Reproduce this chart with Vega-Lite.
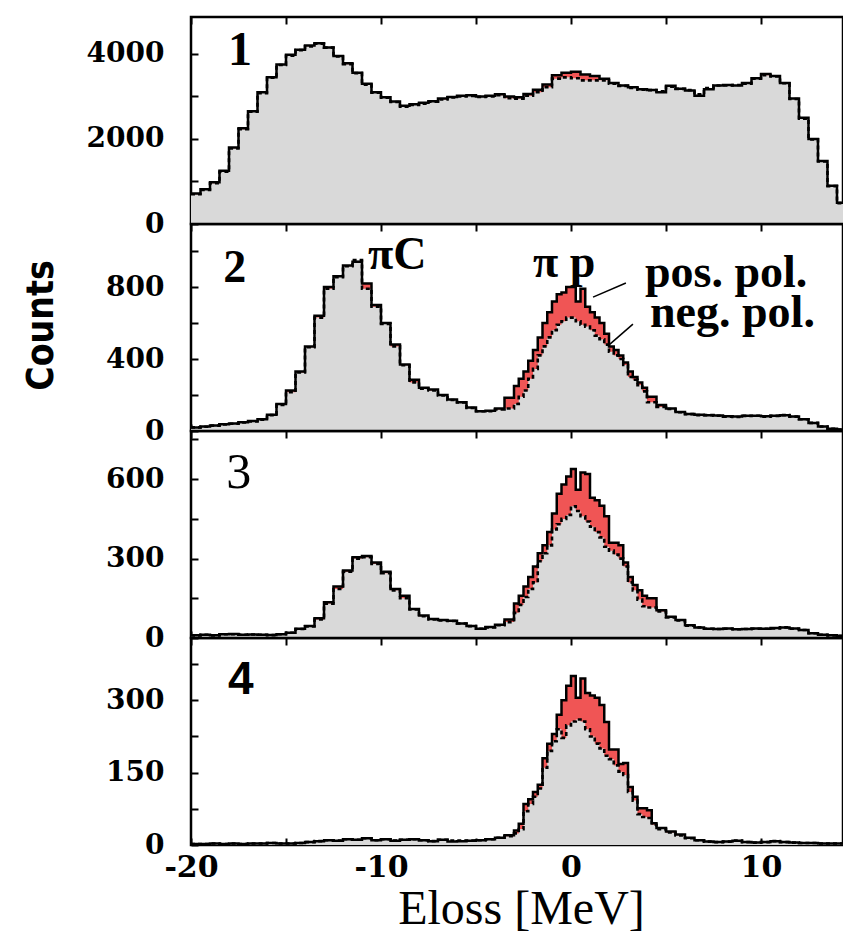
{
"$schema":"https://vega.github.io/schema/vega-lite/v6.json",
"background":"white",
"padding":{"left":20,"top":14,"right":0,"bottom":0},
"datasets":{"h":[
{"p":1,"x":-20,"pos":720,"neg":700},{"p":1,"x":-19.5,"pos":820,"neg":800},{"p":1,"x":-19,"pos":980,"neg":960},{"p":1,"x":-18.5,"pos":1250,"neg":1230},{"p":1,"x":-18,"pos":1800,"neg":1780},{"p":1,"x":-17.5,"pos":2250,"neg":2230},{"p":1,"x":-17,"pos":2650,"neg":2640},{"p":1,"x":-16.5,"pos":3100,"neg":3080},{"p":1,"x":-16,"pos":3450,"neg":3440},{"p":1,"x":-15.5,"pos":3750,"neg":3740},{"p":1,"x":-15,"pos":3980,"neg":3960},{"p":1,"x":-14.5,"pos":4100,"neg":4090},{"p":1,"x":-14,"pos":4200,"neg":4180},{"p":1,"x":-13.5,"pos":4250,"neg":4240},{"p":1,"x":-13,"pos":4150,"neg":4150},{"p":1,"x":-12.5,"pos":3950,"neg":3940},{"p":1,"x":-12,"pos":3780,"neg":3760},{"p":1,"x":-11.5,"pos":3560,"neg":3550},{"p":1,"x":-11,"pos":3300,"neg":3280},{"p":1,"x":-10.5,"pos":3100,"neg":3090},{"p":1,"x":-10,"pos":2980,"neg":2970},{"p":1,"x":-9.5,"pos":2880,"neg":2870},{"p":1,"x":-9,"pos":2780,"neg":2760},{"p":1,"x":-8.5,"pos":2820,"neg":2800},{"p":1,"x":-8,"pos":2850,"neg":2830},{"p":1,"x":-7.5,"pos":2890,"neg":2880},{"p":1,"x":-7,"pos":2950,"neg":2930},{"p":1,"x":-6.5,"pos":2990,"neg":2980},{"p":1,"x":-6,"pos":3020,"neg":3000},{"p":1,"x":-5.5,"pos":3030,"neg":3010},{"p":1,"x":-5,"pos":3000,"neg":2990},{"p":1,"x":-4.5,"pos":3020,"neg":3000},{"p":1,"x":-4,"pos":3050,"neg":3030},{"p":1,"x":-3.5,"pos":3000,"neg":2960},{"p":1,"x":-3,"pos":2980,"neg":2950},{"p":1,"x":-2.5,"pos":3060,"neg":3020},{"p":1,"x":-2,"pos":3160,"neg":3100},{"p":1,"x":-1.5,"pos":3280,"neg":3220},{"p":1,"x":-1,"pos":3500,"neg":3420},{"p":1,"x":-0.5,"pos":3560,"neg":3450},{"p":1,"x":0,"pos":3580,"neg":3430},{"p":1,"x":0.5,"pos":3520,"neg":3380},{"p":1,"x":1,"pos":3480,"neg":3380},{"p":1,"x":1.5,"pos":3420,"neg":3380},{"p":1,"x":2,"pos":3320,"neg":3300},{"p":1,"x":2.5,"pos":3260,"neg":3250},{"p":1,"x":3,"pos":3220,"neg":3200},{"p":1,"x":3.5,"pos":3170,"neg":3160},{"p":1,"x":4,"pos":3150,"neg":3150},{"p":1,"x":4.5,"pos":3100,"neg":3120},{"p":1,"x":5,"pos":3250,"neg":3230},{"p":1,"x":5.5,"pos":3180,"neg":3180},{"p":1,"x":6,"pos":3140,"neg":3150},{"p":1,"x":6.5,"pos":3020,"neg":3050},{"p":1,"x":7,"pos":3170,"neg":3200},{"p":1,"x":7.5,"pos":3260,"neg":3260},{"p":1,"x":8,"pos":3270,"neg":3260},{"p":1,"x":8.5,"pos":3260,"neg":3270},{"p":1,"x":9,"pos":3320,"neg":3300},{"p":1,"x":9.5,"pos":3430,"neg":3420},{"p":1,"x":10,"pos":3530,"neg":3500},{"p":1,"x":10.5,"pos":3480,"neg":3470},{"p":1,"x":11,"pos":3320,"neg":3310},{"p":1,"x":11.5,"pos":2950,"neg":2940},{"p":1,"x":12,"pos":2500,"neg":2480},{"p":1,"x":12.5,"pos":2000,"neg":1990},{"p":1,"x":13,"pos":1480,"neg":1470},{"p":1,"x":13.5,"pos":900,"neg":890},{"p":1,"x":14,"pos":500,"neg":490},{"p":1,"x":14.5,"pos":480,"neg":470},
{"p":2,"x":-20,"pos":20,"neg":20},{"p":2,"x":-19.5,"pos":25,"neg":24},{"p":2,"x":-19,"pos":30,"neg":30},{"p":2,"x":-18.5,"pos":38,"neg":37},{"p":2,"x":-18,"pos":42,"neg":40},{"p":2,"x":-17.5,"pos":48,"neg":47},{"p":2,"x":-17,"pos":55,"neg":53},{"p":2,"x":-16.5,"pos":65,"neg":63},{"p":2,"x":-16,"pos":90,"neg":88},{"p":2,"x":-15.5,"pos":150,"neg":145},{"p":2,"x":-15,"pos":225,"neg":215},{"p":2,"x":-14.5,"pos":330,"neg":325},{"p":2,"x":-14,"pos":470,"neg":465},{"p":2,"x":-13.5,"pos":640,"neg":630},{"p":2,"x":-13,"pos":800,"neg":790},{"p":2,"x":-12.5,"pos":860,"neg":855},{"p":2,"x":-12,"pos":920,"neg":915},{"p":2,"x":-11.5,"pos":940,"neg":950},{"p":2,"x":-11,"pos":820,"neg":790},{"p":2,"x":-10.5,"pos":700,"neg":690},{"p":2,"x":-10,"pos":600,"neg":595},{"p":2,"x":-9.5,"pos":480,"neg":470},{"p":2,"x":-9,"pos":370,"neg":365},{"p":2,"x":-8.5,"pos":285,"neg":270},{"p":2,"x":-8,"pos":240,"neg":235},{"p":2,"x":-7.5,"pos":230,"neg":225},{"p":2,"x":-7,"pos":200,"neg":198},{"p":2,"x":-6.5,"pos":175,"neg":172},{"p":2,"x":-6,"pos":160,"neg":158},{"p":2,"x":-5.5,"pos":130,"neg":128},{"p":2,"x":-5,"pos":110,"neg":110},{"p":2,"x":-4.5,"pos":112,"neg":110},{"p":2,"x":-4,"pos":125,"neg":120},{"p":2,"x":-3.5,"pos":185,"neg":125},{"p":2,"x":-3,"pos":250,"neg":150},{"p":2,"x":-2.75,"pos":290,"neg":190},{"p":2,"x":-2.5,"pos":330,"neg":225},{"p":2,"x":-2.25,"pos":390,"neg":290},{"p":2,"x":-2,"pos":450,"neg":345},{"p":2,"x":-1.75,"pos":520,"neg":420},{"p":2,"x":-1.5,"pos":600,"neg":470},{"p":2,"x":-1.25,"pos":660,"neg":520},{"p":2,"x":-1,"pos":720,"neg":560},{"p":2,"x":-0.75,"pos":760,"neg":590},{"p":2,"x":-0.5,"pos":770,"neg":610},{"p":2,"x":-0.25,"pos":800,"neg":630},{"p":2,"x":0,"pos":800,"neg":630},{"p":2,"x":0.25,"pos":720,"neg":610},{"p":2,"x":0.5,"pos":790,"neg":590},{"p":2,"x":0.75,"pos":690,"neg":580},{"p":2,"x":1,"pos":660,"neg":560},{"p":2,"x":1.25,"pos":630,"neg":530},{"p":2,"x":1.5,"pos":600,"neg":510},{"p":2,"x":1.75,"pos":540,"neg":480},{"p":2,"x":2,"pos":470,"neg":440},{"p":2,"x":2.25,"pos":450,"neg":420},{"p":2,"x":2.5,"pos":420,"neg":400},{"p":2,"x":2.75,"pos":380,"neg":367},{"p":2,"x":3,"pos":330,"neg":300},{"p":2,"x":3.25,"pos":300,"neg":285},{"p":2,"x":3.5,"pos":270,"neg":255},{"p":2,"x":3.75,"pos":240,"neg":220},{"p":2,"x":4,"pos":190,"neg":160},{"p":2,"x":4.5,"pos":145,"neg":133},{"p":2,"x":5,"pos":125,"neg":122},{"p":2,"x":5.5,"pos":105,"neg":104},{"p":2,"x":6,"pos":95,"neg":94},{"p":2,"x":6.5,"pos":90,"neg":88},{"p":2,"x":7,"pos":88,"neg":88},{"p":2,"x":7.5,"pos":86,"neg":85},{"p":2,"x":8,"pos":82,"neg":80},{"p":2,"x":8.5,"pos":80,"neg":78},{"p":2,"x":9,"pos":85,"neg":84},{"p":2,"x":9.5,"pos":85,"neg":85},{"p":2,"x":10,"pos":82,"neg":80},{"p":2,"x":10.5,"pos":85,"neg":84},{"p":2,"x":11,"pos":88,"neg":88},{"p":2,"x":11.5,"pos":80,"neg":80},{"p":2,"x":12,"pos":65,"neg":65},{"p":2,"x":12.5,"pos":45,"neg":45},{"p":2,"x":13,"pos":25,"neg":25},{"p":2,"x":13.5,"pos":12,"neg":12},{"p":2,"x":14,"pos":8,"neg":8},{"p":2,"x":14.5,"pos":8,"neg":8},
{"p":3,"x":-20,"pos":10,"neg":10},{"p":3,"x":-19.5,"pos":12,"neg":12},{"p":3,"x":-19,"pos":10,"neg":10},{"p":3,"x":-18.5,"pos":14,"neg":14},{"p":3,"x":-18,"pos":15,"neg":14},{"p":3,"x":-17.5,"pos":12,"neg":12},{"p":3,"x":-17,"pos":13,"neg":13},{"p":3,"x":-16.5,"pos":12,"neg":12},{"p":3,"x":-16,"pos":11,"neg":11},{"p":3,"x":-15.5,"pos":14,"neg":14},{"p":3,"x":-15,"pos":20,"neg":20},{"p":3,"x":-14.5,"pos":35,"neg":34},{"p":3,"x":-14,"pos":45,"neg":44},{"p":3,"x":-13.5,"pos":75,"neg":70},{"p":3,"x":-13,"pos":135,"neg":130},{"p":3,"x":-12.5,"pos":195,"neg":185},{"p":3,"x":-12,"pos":255,"neg":250},{"p":3,"x":-11.5,"pos":305,"neg":300},{"p":3,"x":-11,"pos":310,"neg":305},{"p":3,"x":-10.5,"pos":285,"neg":280},{"p":3,"x":-10,"pos":250,"neg":245},{"p":3,"x":-9.5,"pos":185,"neg":180},{"p":3,"x":-9,"pos":160,"neg":150},{"p":3,"x":-8.5,"pos":110,"neg":108},{"p":3,"x":-8,"pos":85,"neg":82},{"p":3,"x":-7.5,"pos":72,"neg":70},{"p":3,"x":-7,"pos":68,"neg":66},{"p":3,"x":-6.5,"pos":65,"neg":64},{"p":3,"x":-6,"pos":55,"neg":55},{"p":3,"x":-5.5,"pos":45,"neg":45},{"p":3,"x":-5,"pos":35,"neg":35},{"p":3,"x":-4.5,"pos":42,"neg":40},{"p":3,"x":-4,"pos":50,"neg":48},{"p":3,"x":-3.5,"pos":70,"neg":60},{"p":3,"x":-3,"pos":130,"neg":95},{"p":3,"x":-2.75,"pos":160,"neg":125},{"p":3,"x":-2.5,"pos":195,"neg":155},{"p":3,"x":-2.25,"pos":230,"neg":185},{"p":3,"x":-2,"pos":270,"neg":210},{"p":3,"x":-1.75,"pos":320,"neg":290},{"p":3,"x":-1.5,"pos":350,"neg":320},{"p":3,"x":-1.25,"pos":400,"neg":350},{"p":3,"x":-1,"pos":470,"neg":410},{"p":3,"x":-0.75,"pos":545,"neg":430},{"p":3,"x":-0.5,"pos":580,"neg":450},{"p":3,"x":-0.25,"pos":610,"neg":465},{"p":3,"x":0,"pos":638,"neg":498},{"p":3,"x":0.25,"pos":560,"neg":480},{"p":3,"x":0.5,"pos":625,"neg":460},{"p":3,"x":0.75,"pos":620,"neg":440},{"p":3,"x":1,"pos":530,"neg":420},{"p":3,"x":1.25,"pos":520,"neg":400},{"p":3,"x":1.5,"pos":500,"neg":380},{"p":3,"x":1.75,"pos":460,"neg":345},{"p":3,"x":2,"pos":360,"neg":330},{"p":3,"x":2.25,"pos":360,"neg":315},{"p":3,"x":2.5,"pos":350,"neg":300},{"p":3,"x":2.75,"pos":285,"neg":270},{"p":3,"x":3,"pos":230,"neg":210},{"p":3,"x":3.25,"pos":200,"neg":180},{"p":3,"x":3.5,"pos":180,"neg":145},{"p":3,"x":3.75,"pos":160,"neg":120},{"p":3,"x":4,"pos":150,"neg":115},{"p":3,"x":4.5,"pos":105,"neg":100},{"p":3,"x":5,"pos":80,"neg":78},{"p":3,"x":5.5,"pos":68,"neg":66},{"p":3,"x":6,"pos":48,"neg":46},{"p":3,"x":6.5,"pos":40,"neg":40},{"p":3,"x":7,"pos":35,"neg":35},{"p":3,"x":7.5,"pos":34,"neg":34},{"p":3,"x":8,"pos":36,"neg":35},{"p":3,"x":8.5,"pos":33,"neg":33},{"p":3,"x":9,"pos":34,"neg":34},{"p":3,"x":9.5,"pos":36,"neg":35},{"p":3,"x":10,"pos":35,"neg":35},{"p":3,"x":10.5,"pos":38,"neg":36},{"p":3,"x":11,"pos":40,"neg":40},{"p":3,"x":11.5,"pos":36,"neg":35},{"p":3,"x":12,"pos":30,"neg":30},{"p":3,"x":12.5,"pos":18,"neg":18},{"p":3,"x":13,"pos":12,"neg":12},{"p":3,"x":13.5,"pos":10,"neg":10},{"p":3,"x":14,"pos":8,"neg":8},{"p":3,"x":14.5,"pos":8,"neg":8},
{"p":4,"x":-20,"pos":2,"neg":2},{"p":4,"x":-19.5,"pos":2,"neg":2},{"p":4,"x":-19,"pos":3,"neg":3},{"p":4,"x":-18.5,"pos":2,"neg":2},{"p":4,"x":-18,"pos":3,"neg":3},{"p":4,"x":-17.5,"pos":2,"neg":2},{"p":4,"x":-17,"pos":3,"neg":3},{"p":4,"x":-16.5,"pos":3,"neg":3},{"p":4,"x":-16,"pos":4,"neg":4},{"p":4,"x":-15.5,"pos":3,"neg":3},{"p":4,"x":-15,"pos":3,"neg":3},{"p":4,"x":-14.5,"pos":4,"neg":4},{"p":4,"x":-14,"pos":6,"neg":6},{"p":4,"x":-13.5,"pos":8,"neg":8},{"p":4,"x":-13,"pos":10,"neg":10},{"p":4,"x":-12.5,"pos":9,"neg":9},{"p":4,"x":-12,"pos":12,"neg":12},{"p":4,"x":-11.5,"pos":11,"neg":11},{"p":4,"x":-11,"pos":14,"neg":14},{"p":4,"x":-10.5,"pos":10,"neg":10},{"p":4,"x":-10,"pos":12,"neg":12},{"p":4,"x":-9.5,"pos":9,"neg":9},{"p":4,"x":-9,"pos":11,"neg":11},{"p":4,"x":-8.5,"pos":12,"neg":12},{"p":4,"x":-8,"pos":10,"neg":10},{"p":4,"x":-7.5,"pos":8,"neg":8},{"p":4,"x":-7,"pos":11,"neg":11},{"p":4,"x":-6.5,"pos":7,"neg":9},{"p":4,"x":-6,"pos":8,"neg":9},{"p":4,"x":-5.5,"pos":9,"neg":9},{"p":4,"x":-5,"pos":10,"neg":10},{"p":4,"x":-4.5,"pos":12,"neg":12},{"p":4,"x":-4,"pos":15,"neg":15},{"p":4,"x":-3.5,"pos":20,"neg":18},{"p":4,"x":-3,"pos":30,"neg":24},{"p":4,"x":-2.75,"pos":44,"neg":33},{"p":4,"x":-2.5,"pos":85,"neg":70},{"p":4,"x":-2.25,"pos":95,"neg":85},{"p":4,"x":-2,"pos":110,"neg":100},{"p":4,"x":-1.75,"pos":125,"neg":117},{"p":4,"x":-1.5,"pos":180,"neg":160},{"p":4,"x":-1.25,"pos":210,"neg":195},{"p":4,"x":-1,"pos":230,"neg":215},{"p":4,"x":-0.75,"pos":270,"neg":240},{"p":4,"x":-0.5,"pos":300,"neg":222},{"p":4,"x":-0.25,"pos":330,"neg":248},{"p":4,"x":0,"pos":350,"neg":256},{"p":4,"x":0.25,"pos":305,"neg":260},{"p":4,"x":0.5,"pos":345,"neg":256},{"p":4,"x":0.75,"pos":315,"neg":240},{"p":4,"x":1,"pos":310,"neg":225},{"p":4,"x":1.25,"pos":305,"neg":210},{"p":4,"x":1.5,"pos":290,"neg":200},{"p":4,"x":1.75,"pos":255,"neg":185},{"p":4,"x":2,"pos":198,"neg":178},{"p":4,"x":2.25,"pos":198,"neg":165},{"p":4,"x":2.5,"pos":168,"neg":152},{"p":4,"x":2.75,"pos":170,"neg":145},{"p":4,"x":3,"pos":120,"neg":110},{"p":4,"x":3.25,"pos":100,"neg":92},{"p":4,"x":3.5,"pos":76,"neg":64},{"p":4,"x":3.75,"pos":76,"neg":58},{"p":4,"x":4,"pos":72,"neg":56},{"p":4,"x":4.25,"pos":45,"neg":42},{"p":4,"x":4.5,"pos":35,"neg":33},{"p":4,"x":5,"pos":28,"neg":26},{"p":4,"x":5.5,"pos":22,"neg":20},{"p":4,"x":6,"pos":15,"neg":14},{"p":4,"x":6.5,"pos":10,"neg":10},{"p":4,"x":7,"pos":7,"neg":7},{"p":4,"x":7.5,"pos":6,"neg":6},{"p":4,"x":8,"pos":7,"neg":7},{"p":4,"x":8.5,"pos":9,"neg":9},{"p":4,"x":9,"pos":6,"neg":6},{"p":4,"x":9.5,"pos":5,"neg":5},{"p":4,"x":10,"pos":6,"neg":6},{"p":4,"x":10.5,"pos":8,"neg":8},{"p":4,"x":11,"pos":6,"neg":6},{"p":4,"x":11.5,"pos":5,"neg":5},{"p":4,"x":12,"pos":4,"neg":4},{"p":4,"x":12.5,"pos":4,"neg":4},{"p":4,"x":13,"pos":3,"neg":3},{"p":4,"x":13.5,"pos":3,"neg":3},{"p":4,"x":14,"pos":3,"neg":3},{"p":4,"x":14.5,"pos":3,"neg":3}
]},
"vconcat":[
{"width":652,"height":207,"data":{"name":"h"},"transform":[{"filter":"datum.p == 1"}],
 "resolve":{"axis":{"x":"independent","y":"independent"}},
 "layer":[
  {"mark":{"type":"area","interpolate":"step-after","color":"#f05555","clip":true},
   "encoding":{"x":{"field":"x","type":"quantitative","scale":{"domain":[-20,14.316],"nice":false,"zero":false},"axis":{"values":[-20,-15,-10,-5,0,5,10],"labels":false,"title":null}},
   "y":{"field":"pos","type":"quantitative","scale":{"domain":[0,4870],"nice":false},"axis":{"values":[0,1000,2000,3000,4000],"labelExpr":"datum.value % 2000 == 0 ? '' + datum.value : ''","title":null,"labelPadding":34}}}},
  {"mark":{"type":"area","interpolate":"step-after","color":"#d9d9d9","clip":true},
   "encoding":{"x":{"field":"x","type":"quantitative","axis":null},"y":{"field":"neg","type":"quantitative","axis":null}}},
  {"mark":{"type":"line","interpolate":"step-after","color":"black","strokeWidth":2.6,"strokeDash":[4,3],"clip":true},
   "encoding":{"x":{"field":"x","type":"quantitative","axis":{"orient":"top","values":[-20,-15,-10,-5,0,5,10],"labels":false,"title":null}},"y":{"field":"neg","type":"quantitative","axis":null}}},
  {"mark":{"type":"line","interpolate":"step-after","color":"black","strokeWidth":2.5,"clip":true},
   "encoding":{"x":{"field":"x","type":"quantitative","axis":null},"y":{"field":"pos","type":"quantitative","axis":null}}},
  {"data":{"values":[{"x":-18.05,"y":3741,"t":"1"}]},
   "mark":{"type":"text","align":"left","baseline":"alphabetic","font":"Liberation Serif","fontWeight":"bold","fontSize":48,"color":"black"},
   "encoding":{"x":{"field":"x","type":"quantitative","axis":null},"y":{"field":"y","type":"quantitative","axis":null},"text":{"field":"t"}}}
 ]},
{"width":652,"height":207,"data":{"name":"h"},"transform":[{"filter":"datum.p == 2"}],
 "resolve":{"axis":{"x":"independent","y":"independent"}},
 "layer":[
  {"mark":{"type":"area","interpolate":"step-after","color":"#f05555","clip":true},
   "encoding":{"x":{"field":"x","type":"quantitative","scale":{"domain":[-20,14.316],"nice":false,"zero":false},"axis":{"values":[-20,-15,-10,-5,0,5,10],"labels":false,"title":null}},
   "y":{"field":"pos","type":"quantitative","scale":{"domain":[0,1150],"nice":false},"axis":{"values":[0,200,400,600,800,1000],"labelExpr":"datum.value % 400 == 0 ? '' + datum.value : ''","labelPadding":34,"title":"Counts","titleFont":"DejaVu Sans Condensed, Liberation Sans Narrow, Liberation Sans","titleFontWeight":"bold","titleFontSize":37,"titleAngle":-90,"titleAlign":"center","titleBaseline":"middle","titleX":-150,"titleY":101}}}},
  {"mark":{"type":"area","interpolate":"step-after","color":"#d9d9d9","clip":true},
   "encoding":{"x":{"field":"x","type":"quantitative","axis":null},"y":{"field":"neg","type":"quantitative","axis":null}}},
  {"mark":{"type":"line","interpolate":"step-after","color":"black","strokeWidth":2.6,"strokeDash":[4,3],"clip":true},
   "encoding":{"x":{"field":"x","type":"quantitative","axis":{"orient":"top","values":[-20,-15,-10,-5,0,5,10],"labels":false,"title":null}},"y":{"field":"neg","type":"quantitative","axis":null}}},
  {"mark":{"type":"line","interpolate":"step-after","color":"black","strokeWidth":2.5,"clip":true},
   "encoding":{"x":{"field":"x","type":"quantitative","axis":null},"y":{"field":"pos","type":"quantitative","axis":null}}},
  {"data":{"values":[{"x":1.16,"y":744,"x2":2.89,"y2":822},{"x":2.05,"y":483,"x2":3.26,"y2":594}]},
   "mark":{"type":"rule","color":"black","strokeWidth":1.5},
   "encoding":{"x":{"field":"x","type":"quantitative","axis":null},"y":{"field":"y","type":"quantitative","axis":null},"x2":{"field":"x2"},"y2":{"field":"y2"}}},
  {"data":{"values":[{"x":-18.3,"y":828,"t":"2"},{"x":-10.68,"y":900,"t":"πC"},{"x":-2.0,"y":856,"t":"π p"},{"x":3.89,"y":800,"t":"pos. pol."},{"x":4.16,"y":578,"t":"neg. pol."}]},
   "mark":{"type":"text","align":"left","baseline":"alphabetic","font":"Liberation Serif","fontWeight":"bold","fontSize":46,"color":"black"},
   "encoding":{"x":{"field":"x","type":"quantitative","axis":null},"y":{"field":"y","type":"quantitative","axis":null},"text":{"field":"t"}}}
 ]},
{"width":652,"height":207,"data":{"name":"h"},"transform":[{"filter":"datum.p == 3"}],
 "resolve":{"axis":{"x":"independent","y":"independent"}},
 "layer":[
  {"mark":{"type":"area","interpolate":"step-after","color":"#f05555","clip":true},
   "encoding":{"x":{"field":"x","type":"quantitative","scale":{"domain":[-20,14.316],"nice":false,"zero":false},"axis":{"values":[-20,-15,-10,-5,0,5,10],"labels":false,"title":null}},
   "y":{"field":"pos","type":"quantitative","scale":{"domain":[0,782],"nice":false},"axis":{"values":[0,150,300,450,600,750],"labelExpr":"datum.value % 300 == 0 ? '' + datum.value : ''","title":null,"labelPadding":34}}}},
  {"mark":{"type":"area","interpolate":"step-after","color":"#d9d9d9","clip":true},
   "encoding":{"x":{"field":"x","type":"quantitative","axis":null},"y":{"field":"neg","type":"quantitative","axis":null}}},
  {"mark":{"type":"line","interpolate":"step-after","color":"black","strokeWidth":2.6,"strokeDash":[4,3],"clip":true},
   "encoding":{"x":{"field":"x","type":"quantitative","axis":{"orient":"top","values":[-20,-15,-10,-5,0,5,10],"labels":false,"title":null}},"y":{"field":"neg","type":"quantitative","axis":null}}},
  {"mark":{"type":"line","interpolate":"step-after","color":"black","strokeWidth":2.5,"clip":true},
   "encoding":{"x":{"field":"x","type":"quantitative","axis":null},"y":{"field":"pos","type":"quantitative","axis":null}}},
  {"data":{"values":[{"x":-18.15,"y":566,"t":"3"}]},
   "mark":{"type":"text","align":"left","baseline":"alphabetic","font":"Liberation Serif","fontWeight":"normal","fontSize":50,"color":"black"},
   "encoding":{"x":{"field":"x","type":"quantitative","axis":null},"y":{"field":"y","type":"quantitative","axis":null},"text":{"field":"t"}}}
 ]},
{"width":652,"height":207,"data":{"name":"h"},"transform":[{"filter":"datum.p == 4"}],
 "resolve":{"axis":{"x":"independent","y":"independent"}},
 "layer":[
  {"mark":{"type":"area","interpolate":"step-after","color":"#f05555","clip":true},
   "encoding":{"x":{"field":"x","type":"quantitative","scale":{"domain":[-20,14.316],"nice":false,"zero":false},"axis":{"values":[-20,-15,-10,-5,0,5,10],"labelExpr":"datum.value % 10 == 0 ? '' + datum.value : ''","labelPadding":14,"labelFontSize":30,"title":"Eloss [MeV]","titleFont":"Liberation Serif","titleFontWeight":"normal","titleFontSize":48,"titleAlign":"center","titleBaseline":"alphabetic","titleX":330,"titleY":78}},
   "y":{"field":"pos","type":"quantitative","scale":{"domain":[0,429],"nice":false},"axis":{"values":[0,75,150,225,300,375],"labelExpr":"datum.value % 150 == 0 ? '' + datum.value : ''","title":null,"labelPadding":34}}}},
  {"mark":{"type":"area","interpolate":"step-after","color":"#d9d9d9","clip":true},
   "encoding":{"x":{"field":"x","type":"quantitative","axis":null},"y":{"field":"neg","type":"quantitative","axis":null}}},
  {"mark":{"type":"line","interpolate":"step-after","color":"black","strokeWidth":2.6,"strokeDash":[4,3],"clip":true},
   "encoding":{"x":{"field":"x","type":"quantitative","axis":{"orient":"top","values":[-20,-15,-10,-5,0,5,10],"labels":false,"title":null}},"y":{"field":"neg","type":"quantitative","axis":null}}},
  {"mark":{"type":"line","interpolate":"step-after","color":"black","strokeWidth":2.5,"clip":true},
   "encoding":{"x":{"field":"x","type":"quantitative","axis":null},"y":{"field":"pos","type":"quantitative","axis":null}}},
  {"data":{"values":[{"x":-18.05,"y":312,"t":"4"}]},
   "mark":{"type":"text","align":"left","baseline":"alphabetic","font":"Liberation Sans","fontWeight":"bold","fontSize":46,"color":"black"},
   "encoding":{"x":{"field":"x","type":"quantitative","axis":null},"y":{"field":"y","type":"quantitative","axis":null},"text":{"field":"t"}}}
 ]}
],
"spacing":0,
"bounds":"flush",
"config":{
 "view":{"stroke":"black","strokeWidth":2.5},
 "axis":{"grid":false,"domain":false,"zindex":1,"tickColor":"black","tickWidth":2,"tickSize":-7,"labelColor":"black","labelFont":"DejaVu Serif","labelFontWeight":"bold","labelFontSize":28,"labelOverlap":false,"labelFlush":false,"titleColor":"black"}
}
}
